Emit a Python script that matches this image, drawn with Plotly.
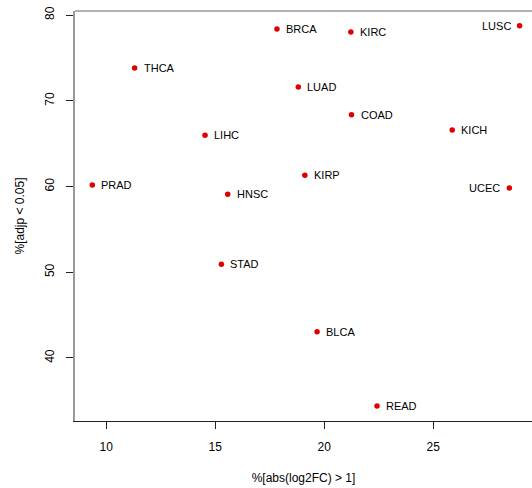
import plotly.graph_objects as go

# Percentage of genes with |log2FC| > 1 vs percentage with adjusted p < 0.05, per tumour type
cancer_types = ["BRCA", "KIRC", "LUSC", "THCA", "LUAD", "COAD", "LIHC", "KICH",
                "PRAD", "KIRP", "HNSC", "UCEC", "STAD", "BLCA", "READ"]
pct_log2fc = [17.83, 21.22, 28.96, 11.30, 18.81, 21.25, 14.53, 25.87,
              9.36, 19.11, 15.57, 28.49, 15.28, 19.67, 22.42]
pct_adjp = [78.37, 78.02, 78.75, 73.82, 71.60, 68.37, 65.97, 66.59,
            60.17, 61.31, 59.09, 59.83, 50.93, 43.07, 34.40]
# labels placed on the left of the point instead of the right
left_labels = {"LUSC", "UCEC"}

x_ticks = [10, 15, 20, 25]
y_ticks = [40, 50, 60, 70, 80]

FONT = "Liberation Sans, Arial, Helvetica, sans-serif"

fig = go.Figure()
fig.add_trace(go.Scatter(
    x=pct_log2fc, y=pct_adjp, mode="markers",
    marker=dict(color="#e00000", size=5.5, line=dict(width=0)),
    hoverinfo="text", text=cancer_types, showlegend=False,
))

annotations = []
for name, xv, yv in zip(cancer_types, pct_log2fc, pct_adjp):
    on_left = name in left_labels
    annotations.append(dict(
        x=xv, y=yv, xref="x", yref="y", text=name, showarrow=False,
        xanchor="right" if on_left else "left", yanchor="middle",
        xshift=-7 if on_left else 7,
        font=dict(family=FONT, size=11, color="#000000"),
    ))

fig.update_layout(
    width=532, height=488,
    margin=dict(l=75, r=0, t=11, b=67),
    paper_bgcolor="white", plot_bgcolor="white",
    font=dict(family=FONT, color="#000000"),
    annotations=annotations,
    shapes=[dict(type="line", xref="paper", yref="paper", x0=0, x1=1, y0=1, y1=1,
                 line=dict(color="#999999", width=1.5))],
    xaxis=dict(
        range=[8.565, 29.53], tickvals=x_ticks, ticks="outside", ticklen=7,
        tickcolor="#222222", showline=True, linecolor="#222222", linewidth=1,
        showgrid=False, zeroline=False, tickfont=dict(size=12),
        ticklabelstandoff=8,
        title=dict(text="%[abs(log2FC) > 1]", font=dict(size=12), standoff=20),
    ),
    yaxis=dict(
        range=[32.65, 80.47], tickvals=y_ticks, ticks="outside", ticklen=7,
        tickcolor="#222222", showline=True, linecolor="#999999", linewidth=1.5,
        showgrid=False, zeroline=False, tickangle=-90, tickfont=dict(size=12),
        ticklabelstandoff=7,
        title=dict(text="%[adjp < 0.05]", font=dict(size=12), standoff=16),
    ),
)

fig.write_html("out.html")
